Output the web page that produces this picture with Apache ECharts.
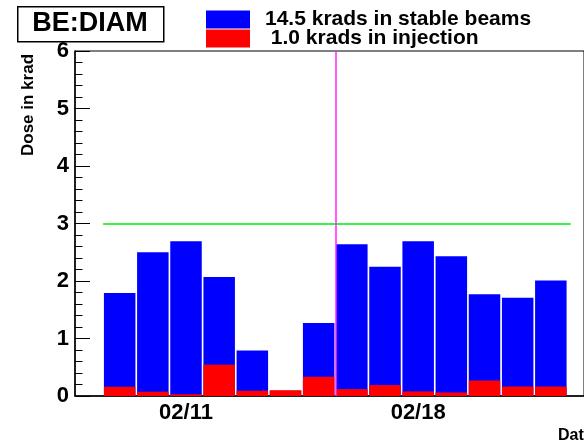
<!DOCTYPE html>
<html>
<head>
<meta charset="utf-8">
<script src="https://cdn.jsdelivr.net/npm/echarts@6/dist/echarts.min.js"></script>
<style>html,body{margin:0;padding:0;background:#fff}#c{width:584px;height:446px}</style>
</head>
<body>
<div id="c"></div>
<script>
var days = ['02/09','02/10','02/11','02/12','02/13','02/14','02/15','02/16','02/17','02/18','02/19','02/20','02/21','02/22'];
var stableBeams = [1.79, 2.50, 2.69, 2.07, 0.79, 0.09, 1.27, 2.64, 2.25, 2.69, 2.43, 1.77, 1.71, 2.01];
var injection = [0.16, 0.075, 0.03, 0.545, 0.09, 0.10, 0.335, 0.12, 0.19, 0.08, 0.06, 0.27, 0.165, 0.165];
var tickDays = ['02/11', '02/18'];
var yTicks = [0, 1, 2, 3, 4, 5, 6];
var limitValue = 3;
var markerDay = 7;
var seriesNames = ['14.5 krads in stable beams', ' 1.0 krads in injection'];
var titleText = 'BE:DIAM';

var FONT = '"Liberation Sans", Arial, Helvetica, sans-serif';
var chart = echarts.init(document.getElementById('c'));
function pts(vals) { return vals.map(function (v, i) { return [i + 0.5, v]; }); }
var labelVals = tickDays.map(function (d) { return days.indexOf(d) + 0.5; });

chart.setOption({
  animation: false,
  grid: { left: 75, top: 51, width: 511, height: 345, show: true, borderColor: '#000', borderWidth: 1, backgroundColor: 'transparent' },
  legend: {
    orient: 'vertical', left: 206, top: 9, itemWidth: 44, itemHeight: 18, itemGap: -2,
    icon: 'rect', padding: 0,
    textStyle: { fontFamily: FONT, fontWeight: 'bold', fontSize: 21, color: '#000', lineHeight: 18, padding: [0, 0, 0, 10] },
    data: seriesNames
  },
  xAxis: {
    type: 'value', min: -0.847, max: 14.5,
    splitLine: { show: false },
    axisLine: { show: true, onZero: false, lineStyle: { color: '#000', width: 1.5 } },
    axisTick: { show: false },
    axisLabel: {
      customValues: labelVals, margin: 6,
      fontFamily: FONT, fontWeight: 'bold', fontSize: 22, color: '#000',
      formatter: function (v) { return days[Math.floor(v)]; }
    }
  },
  yAxis: {
    type: 'value', min: yTicks[0], max: yTicks[yTicks.length - 1], interval: 1,
    splitLine: { show: false },
    axisLine: { show: true, onZero: false, lineStyle: { color: '#000', width: 1.5 } },
    axisTick: { show: true, inside: true, length: 15, lineStyle: { color: '#000', width: 1 } },
    minorTick: { show: true, splitNumber: 5, length: 7.5, lineStyle: { color: '#000', width: 1 } },
    axisLabel: { margin: 6, fontFamily: FONT, fontWeight: 'bold', fontSize: 22, color: '#000' }
  },
  graphic: [
    { type: 'rect', left: 17, top: 6, shape: { width: 146, height: 35 }, style: { fill: '#fff', stroke: '#000', lineWidth: 1.5 } },
    { type: 'text', x: 90, y: 24, style: { text: titleText, fill: '#000', font: 'bold 27px ' + FONT, align: 'center', verticalAlign: 'middle' } },
    { type: 'text', x: 28, y: 105, rotation: Math.PI / 2, style: { text: 'Dose in krad', fill: '#000', font: 'bold 17px ' + FONT, align: 'center', verticalAlign: 'middle' } },
    { type: 'text', x: 558, y: 436, style: { text: 'Date', fill: '#000', font: 'bold 16px ' + FONT, align: 'left', verticalAlign: 'middle' } }
  ],
  series: [
    {
      name: seriesNames[0], type: 'bar', barWidth: 31.5, barGap: '-100%',
      itemStyle: { color: '#0000ff' },
      data: pts(stableBeams)
    },
    {
      name: seriesNames[1], type: 'bar', barWidth: 31.5, barGap: '-100%',
      itemStyle: { color: '#ff0000' },
      data: pts(injection),
      markLine: {
        silent: true, symbol: 'none', label: { show: false },
        data: [
          [{ coord: [0, limitValue], lineStyle: { color: '#00ee00', width: 1.5, type: 'solid' } }, { coord: [14.1, limitValue] }],
          { xAxis: markerDay, lineStyle: { color: '#ff22ff', width: 1.5, type: 'solid' } }
        ]
      }
    }
  ]
});
</script>
</body>
</html>
